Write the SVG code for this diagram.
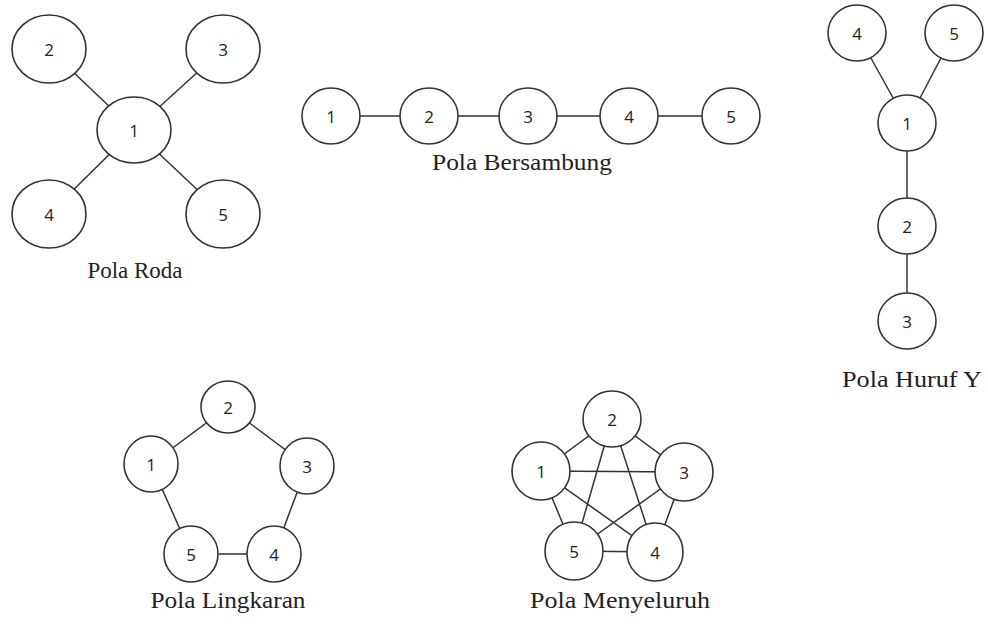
<svg xmlns="http://www.w3.org/2000/svg" width="988" height="629" viewBox="0 0 988 629">
<style>
.n{fill:#fff;stroke:#333;stroke-width:1.6}
.e{stroke:#333;stroke-width:1.5;fill:none}
.t{font-family:"Open Sans","Liberation Sans",sans-serif;font-size:17px;fill:#222;text-anchor:middle;dominant-baseline:central}
.l{font-family:"Liberation Serif","Times New Roman",serif;font-size:24px;fill:#222;text-anchor:middle}
</style>
<rect width="988" height="629" fill="#fff"/>
<g id="connectors">
<line class="e" x1="134" y1="130" x2="49" y2="49"/>
<line class="e" x1="134" y1="130" x2="223" y2="49"/>
<line class="e" x1="134" y1="130" x2="49" y2="214"/>
<line class="e" x1="134" y1="130" x2="223" y2="214"/>
<line class="e" x1="331" y1="116" x2="731" y2="116"/>
<line class="e" x1="857" y1="33" x2="907" y2="123"/>
<line class="e" x1="954" y1="33" x2="907" y2="123"/>
<line class="e" x1="907" y1="123" x2="907" y2="321"/>
<polygon class="e" points="151,464 228,407 307,466 274,554 191,554"/>
<polygon class="e" points="541,471 612,419 684,472 655,552 574,551"/>
<polygon class="e" points="541,471 684,472 574,551 612,419 655,552"/>
</g>
<g id="roda">
<g id="roda-1"><ellipse class="n" cx="134" cy="130" rx="37" ry="33"/><text class="t" x="134" y="130">1</text></g>
<g id="roda-2"><ellipse class="n" cx="49" cy="49" rx="37" ry="34"/><text class="t" x="49" y="49">2</text></g>
<g id="roda-3"><ellipse class="n" cx="223" cy="49" rx="37" ry="34"/><text class="t" x="223" y="49">3</text></g>
<g id="roda-4"><ellipse class="n" cx="49" cy="214" rx="37" ry="34"/><text class="t" x="49" y="214">4</text></g>
<g id="roda-5"><ellipse class="n" cx="223" cy="214" rx="37" ry="34"/><text class="t" x="223" y="214">5</text></g>
<text class="l" x="135" y="278" textLength="95" lengthAdjust="spacingAndGlyphs">Pola Roda</text>
</g>
<g id="bersambung">
<g id="bs-1"><ellipse class="n" cx="331" cy="116" rx="29" ry="28"/><text class="t" x="331" y="116">1</text></g>
<g id="bs-2"><ellipse class="n" cx="429" cy="116" rx="29" ry="28"/><text class="t" x="429" y="116">2</text></g>
<g id="bs-3"><ellipse class="n" cx="528" cy="116" rx="29" ry="28"/><text class="t" x="528" y="116">3</text></g>
<g id="bs-4"><ellipse class="n" cx="629" cy="116" rx="29" ry="28"/><text class="t" x="629" y="116">4</text></g>
<g id="bs-5"><ellipse class="n" cx="731" cy="116" rx="29" ry="28"/><text class="t" x="731" y="116">5</text></g>
<text class="l" x="522" y="170" textLength="180" lengthAdjust="spacingAndGlyphs">Pola Bersambung</text>
</g>
<g id="huruf-y">
<g id="y-4"><ellipse class="n" cx="857" cy="33" rx="29" ry="28"/><text class="t" x="857" y="33">4</text></g>
<g id="y-5"><ellipse class="n" cx="954" cy="33" rx="29" ry="28"/><text class="t" x="954" y="33">5</text></g>
<g id="y-1"><ellipse class="n" cx="907" cy="123" rx="29" ry="28"/><text class="t" x="907" y="123">1</text></g>
<g id="y-2"><ellipse class="n" cx="907" cy="226" rx="29" ry="28"/><text class="t" x="907" y="226">2</text></g>
<g id="y-3"><ellipse class="n" cx="907" cy="321" rx="29" ry="28"/><text class="t" x="907" y="321">3</text></g>
<text class="l" x="912" y="387" textLength="140" lengthAdjust="spacingAndGlyphs">Pola Huruf Y</text>
</g>
<g id="lingkaran">
<g id="lk-1"><ellipse class="n" cx="151" cy="464" rx="27" ry="28"/><text class="t" x="151" y="464">1</text></g>
<g id="lk-2"><ellipse class="n" cx="228" cy="407" rx="27" ry="26"/><text class="t" x="228" y="407">2</text></g>
<g id="lk-3"><ellipse class="n" cx="307" cy="466" rx="27" ry="28"/><text class="t" x="307" y="466">3</text></g>
<g id="lk-4"><ellipse class="n" cx="274" cy="554" rx="27" ry="28"/><text class="t" x="274" y="554">4</text></g>
<g id="lk-5"><ellipse class="n" cx="191" cy="554" rx="27" ry="28"/><text class="t" x="191" y="554">5</text></g>
<text class="l" x="228" y="608" textLength="155" lengthAdjust="spacingAndGlyphs">Pola Lingkaran</text>
</g>
<g id="menyeluruh">
<g id="m-1"><ellipse class="n" cx="541" cy="471" rx="29" ry="29"/><text class="t" x="541" y="471">1</text></g>
<g id="m-2"><ellipse class="n" cx="612" cy="419" rx="29" ry="28"/><text class="t" x="612" y="419">2</text></g>
<g id="m-3"><ellipse class="n" cx="684" cy="472" rx="29" ry="29"/><text class="t" x="684" y="472">3</text></g>
<g id="m-4"><ellipse class="n" cx="655" cy="552" rx="28" ry="29"/><text class="t" x="655" y="552">4</text></g>
<g id="m-5"><ellipse class="n" cx="574" cy="551" rx="29" ry="29"/><text class="t" x="574" y="551">5</text></g>
<text class="l" x="620" y="608" textLength="180" lengthAdjust="spacingAndGlyphs">Pola Menyeluruh</text>
</g>
</svg>
